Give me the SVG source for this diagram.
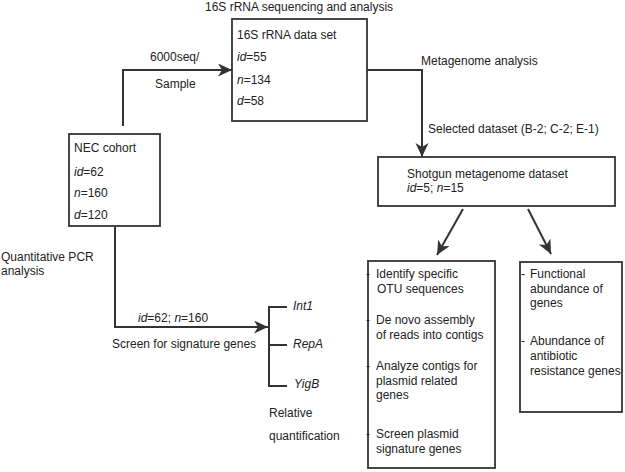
<svg xmlns="http://www.w3.org/2000/svg" width="625" height="472" viewBox="0 0 625 472">
<defs>
<style>
text{font-family:"Liberation Sans",Arial,sans-serif;font-size:12px;fill:#222}
.i{font-style:italic}
.box{fill:#fff;stroke:#333;stroke-width:1.8}
.ln{fill:none;stroke:#333;stroke-width:2}
</style>
<marker id="ah" markerWidth="16" markerHeight="14" refX="14" refY="6.5" orient="auto" markerUnits="userSpaceOnUse">
<path d="M0,0 L14,6.5 L0,13 L4,6.5 z" fill="#333"/>
</marker>
</defs>
<rect width="625" height="472" fill="#fff"/>

<g id="connectors">
<path class="ln" d="M123,126 V70 H232" marker-end="url(#ah)"/>
<path class="ln" d="M367,70 H422 V157" marker-end="url(#ah)"/>
<path class="ln" d="M115,227 V327 H268" marker-end="url(#ah)"/>
<path class="ln" d="M287,307 H269 V386 H287 M268,345 H287"/>
<path class="ln" d="M463,209 L437,255" marker-end="url(#ah)"/>
<path class="ln" d="M528,209 L551,254" marker-end="url(#ah)"/>
</g>

<g id="labels">
<text x="205" y="11">16S rRNA sequencing and analysis</text>
<text x="150" y="61">6000seq/</text>
<text x="155" y="88">Sample</text>
<text x="421" y="65">Metagenome analysis</text>
<text x="428" y="133">Selected dataset (B-2; C-2; E-1)</text>
<text x="1" y="261">Quantitative PCR</text>
<text x="1" y="275">analysis</text>
<text x="138" y="322"><tspan class="i">id</tspan>=62; <tspan class="i">n</tspan>=160</text>
<text x="112" y="348">Screen for signature genes</text>
<text x="269" y="417">Relative</text>
<text x="269" y="440">quantification</text>
</g>

<g id="genes">
<text class="i" x="293" y="310">Int1</text>
<text class="i" x="293" y="348">RepA</text>
<text class="i" x="294" y="388">YigB</text>
</g>

<g id="nec-cohort">
<rect class="box" x="69" y="134" width="91" height="92"/>
<text x="74" y="152">NEC cohort</text>
<text x="74" y="176"><tspan class="i">id</tspan>=62</text>
<text x="74" y="197"><tspan class="i">n</tspan>=160</text>
<text x="74" y="219"><tspan class="i">d</tspan>=120</text>
</g>

<g id="rrna-dataset">
<rect class="box" x="232" y="19" width="135" height="102"/>
<text x="237" y="39">16S rRNA data set</text>
<text x="237" y="61"><tspan class="i">id</tspan>=55</text>
<text x="237" y="84"><tspan class="i">n</tspan>=134</text>
<text x="237" y="105"><tspan class="i">d</tspan>=58</text>
</g>

<g id="shotgun-dataset">
<rect class="box" x="378" y="157" width="237" height="49"/>
<text x="407" y="178">Shotgun metagenome dataset</text>
<text x="407" y="192"><tspan class="i">id</tspan>=5; <tspan class="i">n</tspan>=15</text>
</g>

<g id="plasmid-analysis">
<rect class="box" x="368" y="261" width="127" height="207"/>
<text x="366" y="278">-</text>
<text x="376" y="278">Identify specific</text>
<text x="377" y="293">OTU sequences</text>
<text x="366" y="324">-</text>
<text x="376" y="324">De novo assembly</text>
<text x="376" y="339">of reads into contigs</text>
<text x="366" y="370">-</text>
<text x="376" y="370">Analyze contigs for</text>
<text x="376" y="385">plasmid related</text>
<text x="376" y="399">genes</text>
<text x="366" y="438">-</text>
<text x="376" y="438">Screen plasmid</text>
<text x="376" y="453">signature genes</text>
</g>

<g id="functional-analysis">
<rect class="box" x="520" y="262" width="102" height="150"/>
<text x="521" y="278">-</text>
<text x="530" y="278">Functional</text>
<text x="530" y="293">abundance of</text>
<text x="530" y="307">genes</text>
<text x="521" y="345">-</text>
<text x="530" y="345">Abundance of</text>
<text x="530" y="360">antibiotic</text>
<text x="530" y="375">resistance genes</text>
</g>
</svg>
